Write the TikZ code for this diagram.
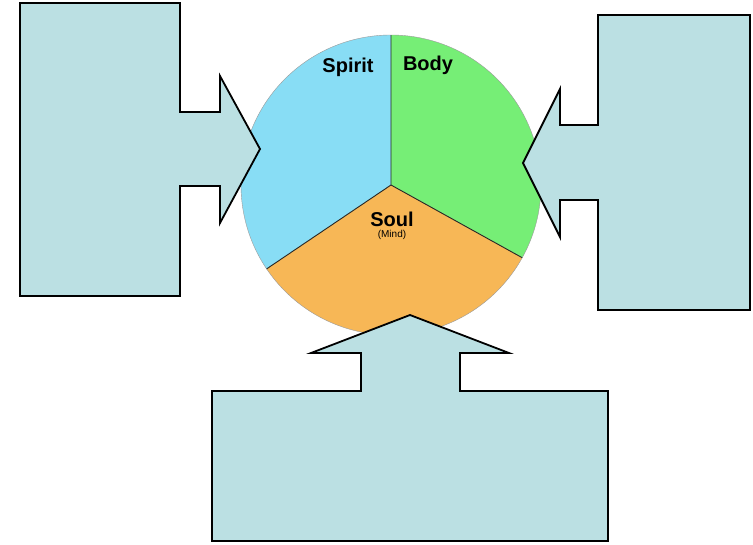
\documentclass[tikz,border=0pt]{standalone}
\usepackage{fontspec}
\setmainfont{Liberation Sans}
\usetikzlibrary{positioning}
\definecolor{callfill}{RGB}{187,224,227}
\definecolor{spiritcol}{RGB}{136,221,245}
\definecolor{bodycol}{RGB}{118,238,118}
\definecolor{soulcol}{RGB}{247,183,86}
\tikzset{callout/.style = {fill=callfill, draw=black, line width=1.8pt, line join=miter}}
\tikzset{divider/.style = {draw=black!85, line width=0.9pt}}
\tikzset{part/.style = {font=\fontsize{20}{20}\selectfont\bfseries, inner sep=1pt}}

\begin{document}
\begin{tikzpicture}[x=1pt,y=-1pt]
        \useasboundingbox (0,0) rectangle (753,544);
        \coordinate (c) at (391,185);
        % the three parts of the circle
        \begin{scope}[shift={(c)},yscale=-1]
            \fill [spiritcol] (0,0) -- (90:150) arc [start angle=90, end angle=214, radius=150] -- cycle;
            \fill [bodycol] (0,0) -- (-29:150) arc [start angle=-29, end angle=90, radius=150] -- cycle;
            \fill [soulcol] (0,0) -- (214:150) arc [start angle=214, end angle=331, radius=150] -- cycle;
            \draw [black!40, line width=0.4pt] (0,0) circle [radius=150];
            \draw [divider] (90:150) -- (0,0) -- (214:150);
            \draw [divider] (0,0) -- (331:150);
        \end{scope}
        \node [part] (spirit) at (348,67) {Spirit};
        \node [part] (body) at (428,65) {Body};
        \node [part] (soul) at (392,219) {Soul};
        \node [font=\fontsize{10}{10}\selectfont, inner sep=1pt, below=2pt of soul] (mind) {(Mind)};
        % callouts
        \filldraw [callout] (20,3) -- (180,3) -- (180,112) -- (220,112) -- (220,76) -- (260,149) -- (220,223) -- (220,186) -- (180,186) -- (180,296) -- (20,296) -- cycle;
        \filldraw [callout] (598,15) -- (750,15) -- (750,310) -- (598,310) -- (598,200) -- (560,200) -- (560,237) -- (523,163) -- (560,89) -- (560,125) -- (598,125) -- cycle;
        \filldraw [callout] (212,391) -- (361,391) -- (361,353) -- (311,353) -- (410,315) -- (509,353) -- (460,353) -- (460,391) -- (608,391) -- (608,541) -- (212,541) -- cycle;
\end{tikzpicture}
\end{document}
